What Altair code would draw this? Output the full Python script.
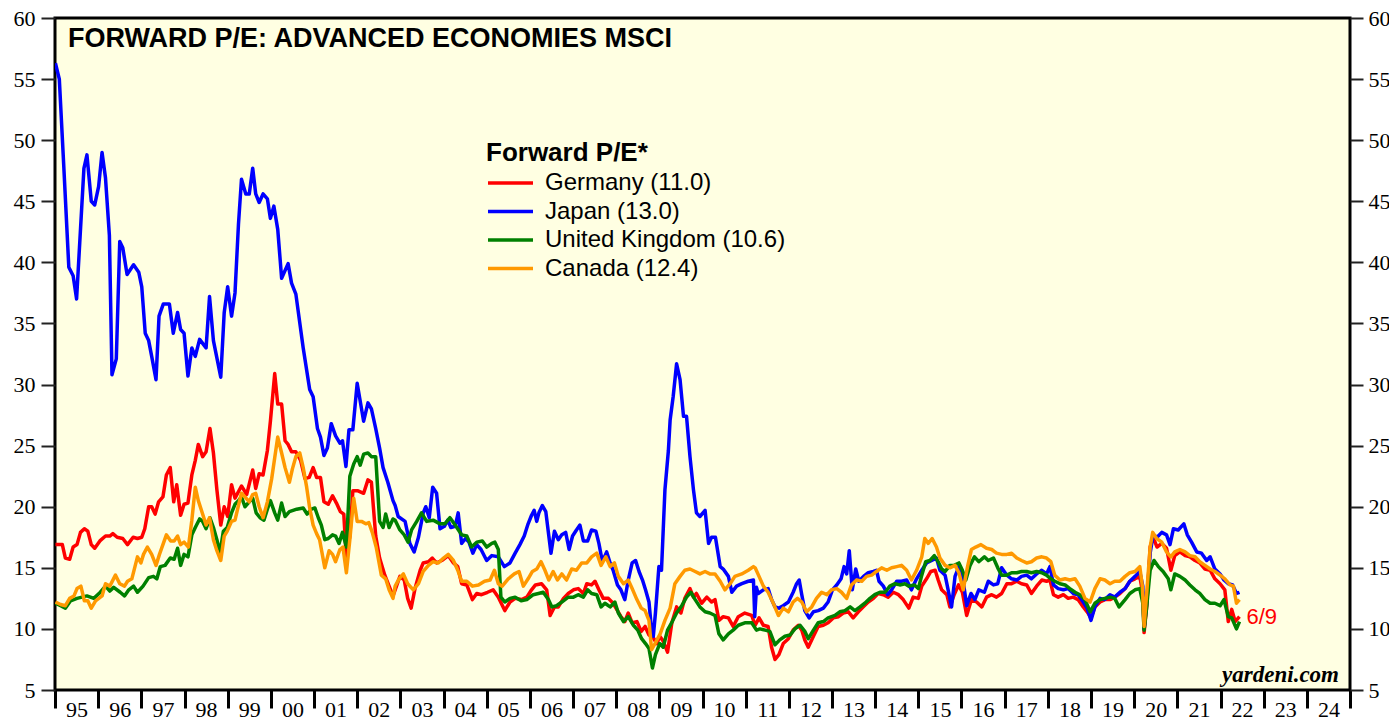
import altair as alt
import pandas as pd

# ---- data (decimal year, forward P/E) ----
GERMANY = [
(1995.01,16.9),(1995.17,16.9),(1995.24,15.8),(1995.34,15.7),(1995.42,16.7),(1995.51,16.9),(1995.59,17.9),
(1995.68,18.2),(1995.76,18.0),(1995.84,16.9),(1995.92,16.6),(1996.04,17.2),(1996.17,17.6),(1996.27,17.6),
(1996.34,17.8),(1996.44,17.5),(1996.57,17.4),(1996.68,16.9),(1996.81,17.5),(1996.91,17.4),(1997.01,17.5),
(1997.08,18.2),(1997.17,20.0),(1997.24,20.0),(1997.32,19.4),(1997.40,20.4),(1997.50,20.8),(1997.58,22.6),
(1997.67,23.2),(1997.75,20.4),(1997.82,21.8),(1997.91,19.3),(1997.99,20.2),(1998.08,20.3),(1998.17,22.6),
(1998.25,23.8),(1998.32,25.1),(1998.42,24.1),(1998.50,24.5),(1998.59,26.4),(1998.67,24.4),(1998.75,21.4),
(1998.84,18.5),(1998.92,20.0),(1999.00,19.2),(1999.09,21.8),(1999.17,20.7),(1999.32,21.7),(1999.44,21.0),
(1999.58,23.0),(1999.65,21.5),(1999.73,22.7),(1999.82,22.6),(1999.92,24.6),(1999.99,27.0),(2000.09,30.9),
(2000.16,28.4),(2000.25,28.4),(2000.33,25.4),(2000.40,25.1),(2000.48,24.5),(2000.58,24.5),(2000.69,23.8),
(2000.79,22.3),(2000.89,22.4),(2000.98,23.2),(2001.06,22.4),(2001.15,22.4),(2001.23,20.4),(2001.33,20.2),
(2001.43,20.9),(2001.52,20.3),(2001.61,19.6),(2001.69,19.4),(2001.75,15.8),(2001.83,17.6),(2001.90,21.3),
(2002.02,21.3),(2002.15,21.1),(2002.25,22.2),(2002.33,22.0),(2002.43,17.6),(2002.52,15.8),(2002.64,14.4),
(2002.74,13.5),(2002.83,12.7),(2002.88,13.2),(2002.99,14.3),(2003.09,14.0),(2003.17,12.5),(2003.25,11.7),
(2003.34,13.3),(2003.46,14.8),(2003.53,15.4),(2003.65,15.5),(2003.74,15.8),(2003.84,15.4),(2003.96,15.6),
(2004.11,16.0),(2004.23,15.4),(2004.33,15.1),(2004.42,13.7),(2004.54,13.6),(2004.67,12.4),(2004.77,12.9),
(2004.88,12.8),(2005.02,13.0),(2005.15,13.2),(2005.27,12.6),(2005.42,11.5),(2005.54,12.2),(2005.66,12.5),
(2005.81,12.4),(2005.93,12.6),(2006.04,13.2),(2006.13,13.6),(2006.27,13.7),(2006.39,13.2),(2006.47,11.1),
(2006.57,11.8),(2006.66,11.8),(2006.78,12.5),(2006.89,12.9),(2007.01,13.2),(2007.12,13.3),(2007.24,12.9),
(2007.32,13.7),(2007.43,13.6),(2007.51,13.9),(2007.60,13.2),(2007.70,12.5),(2007.82,12.5),(2007.93,12.1),
(2008.03,11.5),(2008.11,11.0),(2008.20,10.6),(2008.28,11.3),(2008.37,10.5),(2008.48,10.6),(2008.58,9.8),
(2008.67,10.2),(2008.76,9.5),(2008.84,9.4),(2008.94,8.8),(2009.01,9.4),(2009.09,9.0),(2009.19,8.1),
(2009.29,10.5),(2009.40,11.8),(2009.50,11.3),(2009.59,12.5),(2009.71,13.3),(2009.79,12.6),(2009.86,12.9),
(2009.98,12.1),(2010.10,12.6),(2010.21,12.2),(2010.29,12.4),(2010.38,10.7),(2010.48,11.0),(2010.60,10.9),
(2010.71,10.2),(2010.83,11.0),(2010.98,11.3),(2011.14,11.1),(2011.22,10.3),(2011.31,10.9),(2011.41,10.3),
(2011.52,10.2),(2011.60,8.5),(2011.68,7.5),(2011.77,7.9),(2011.87,8.8),(2011.99,9.2),(2012.10,9.9),
(2012.22,10.3),(2012.30,9.9),(2012.37,9.1),(2012.45,8.5),(2012.57,9.4),(2012.68,10.2),(2012.80,10.3),
(2012.91,10.5),(2013.03,10.9),(2013.15,11.0),(2013.26,11.3),(2013.38,11.4),(2013.49,10.9),(2013.61,11.4),
(2013.72,11.8),(2013.84,12.2),(2013.96,12.5),(2014.07,12.9),(2014.19,12.8),(2014.30,12.6),(2014.42,13.0),
(2014.54,12.8),(2014.65,12.4),(2014.78,11.7),(2014.88,12.6),(2015.00,12.5),(2015.08,13.5),(2015.19,14.1),
(2015.29,14.7),(2015.39,14.8),(2015.46,14.0),(2015.54,13.2),(2015.66,12.8),(2015.73,11.8),(2015.83,12.8),
(2015.93,13.6),(2016.02,13.0),(2016.12,11.1),(2016.23,12.4),(2016.35,12.2),(2016.47,11.8),(2016.58,12.6),
(2016.70,12.8),(2016.81,12.6),(2016.93,12.9),(2017.05,13.7),(2017.16,13.7),(2017.28,13.9),(2017.39,13.7),
(2017.51,13.6),(2017.62,12.9),(2017.74,13.5),(2017.86,14.0),(2017.97,13.9),(2018.05,14.0),(2018.13,12.8),
(2018.24,12.6),(2018.36,12.8),(2018.47,12.5),(2018.59,12.6),(2018.70,12.4),(2018.82,11.8),(2018.91,11.4),
(2019.00,10.9),(2019.09,11.8),(2019.21,12.2),(2019.32,12.4),(2019.44,12.4),(2019.55,12.6),(2019.67,12.9),
(2019.79,13.3),(2019.90,13.9),(2020.02,14.1),(2020.13,14.3),(2020.20,12.9),(2020.23,9.7),(2020.29,11.8),
(2020.37,16.7),(2020.44,17.5),(2020.53,16.7),(2020.64,17.0),(2020.75,16.6),(2020.85,14.8),(2020.94,16.0),
(2021.06,16.3),(2021.18,16.0),(2021.29,15.9),(2021.41,15.6),(2021.52,15.4),(2021.64,14.9),(2021.76,14.8),
(2021.87,14.1),(2021.99,13.7),(2022.10,13.2),(2022.18,10.6),(2022.26,11.6),(2022.34,10.6),(2022.44,11.0),
]

JAPAN = [
(1995.01,56.3),(1995.10,55.0),(1995.20,48.1),(1995.32,39.6),(1995.42,38.9),(1995.50,37.0),(1995.67,47.7),
(1995.74,48.8),(1995.84,45.0),(1995.92,44.7),(1996.01,46.2),(1996.09,49.0),(1996.17,46.9),(1996.26,42.2),
(1996.32,30.8),(1996.42,32.1),(1996.50,41.7),(1996.57,41.2),(1996.67,39.0),(1996.82,39.8),(1996.94,39.2),
(1997.01,38.0),(1997.09,34.2),(1997.17,33.6),(1997.24,32.3),(1997.34,30.4),(1997.41,35.6),(1997.51,36.6),
(1997.65,36.6),(1997.74,34.2),(1997.84,35.9),(1997.91,34.5),(1997.99,34.2),(1998.08,30.7),(1998.17,33.0),
(1998.25,32.3),(1998.35,33.7),(1998.50,33.0),(1998.58,37.2),(1998.67,33.6),(1998.84,30.6),(1998.92,35.9),
(1999.00,38.0),(1999.09,35.6),(1999.17,37.5),(1999.25,43.1),(1999.32,46.8),(1999.42,45.6),(1999.50,45.6),
(1999.58,47.7),(1999.65,45.6),(1999.73,44.9),(1999.82,45.6),(1999.92,45.2),(1999.99,43.6),(2000.07,44.6),
(2000.16,42.7),(2000.25,38.7),(2000.40,39.9),(2000.48,38.3),(2000.58,37.4),(2000.75,33.0),(2000.90,29.6),
(2000.98,29.0),(2001.08,26.4),(2001.15,25.7),(2001.23,24.2),(2001.31,24.8),(2001.40,26.8),(2001.50,25.8),
(2001.60,25.2),(2001.66,25.4),(2001.74,23.3),(2001.81,26.3),(2001.90,26.3),(2002.00,30.1),(2002.15,27.0),
(2002.25,28.5),(2002.33,28.0),(2002.43,26.4),(2002.52,24.8),(2002.60,23.2),(2002.71,22.0),(2002.83,20.5),
(2002.88,20.1),(2002.95,19.2),(2003.11,18.8),(2003.22,17.0),(2003.32,16.3),(2003.42,17.5),(2003.53,19.5),
(2003.59,20.0),(2003.67,19.1),(2003.75,21.6),(2003.84,21.1),(2003.92,18.2),(2004.02,18.4),(2004.10,18.9),
(2004.17,18.3),(2004.27,18.4),(2004.34,19.5),(2004.42,17.0),(2004.51,17.4),(2004.59,17.1),(2004.68,16.2),
(2004.77,16.9),(2004.87,16.5),(2005.00,15.6),(2005.12,16.0),(2005.27,15.9),(2005.41,15.1),(2005.54,15.4),
(2005.66,16.2),(2005.77,16.9),(2005.87,17.6),(2005.96,18.6),(2006.04,19.3),(2006.10,19.7),(2006.16,18.8),
(2006.21,19.5),(2006.29,20.1),(2006.37,19.6),(2006.44,17.6),(2006.49,16.2),(2006.57,18.0),(2006.66,17.3),
(2006.74,17.7),(2006.83,17.9),(2006.91,16.5),(2006.99,17.6),(2007.08,18.1),(2007.16,18.5),(2007.24,17.2),
(2007.34,17.2),(2007.43,18.1),(2007.53,18.0),(2007.60,17.0),(2007.68,15.5),(2007.78,16.3),(2007.86,15.4),
(2007.93,14.8),(2008.03,13.6),(2008.11,13.2),(2008.20,12.4),(2008.28,14.0),(2008.37,15.4),(2008.45,15.6),
(2008.53,14.7),(2008.61,14.0),(2008.68,13.2),(2008.76,12.2),(2008.82,9.9),(2008.86,9.4),(2008.91,11.3),
(2008.99,15.1),(2009.05,14.8),(2009.13,21.4),(2009.21,24.6),(2009.25,27.1),(2009.32,29.0),(2009.40,31.7),
(2009.48,30.4),(2009.56,27.4),(2009.63,27.4),(2009.71,24.1),(2009.79,21.4),(2009.86,19.5),(2009.94,19.2),
(2010.06,19.7),(2010.14,17.0),(2010.21,17.5),(2010.30,17.5),(2010.41,15.1),(2010.48,14.9),(2010.60,14.3),
(2010.68,13.0),(2010.79,13.5),(2010.91,13.7),(2011.06,13.9),(2011.18,14.0),(2011.21,11.0),(2011.25,13.4),
(2011.29,12.9),(2011.41,13.2),(2011.52,13.3),(2011.60,12.4),(2011.68,11.8),(2011.77,11.7),(2011.87,11.9),
(2011.99,12.2),(2012.10,13.0),(2012.18,13.7),(2012.24,14.0),(2012.30,12.8),(2012.37,11.5),(2012.47,10.9),
(2012.57,11.4),(2012.68,11.5),(2012.80,11.7),(2012.91,12.2),(2013.01,13.2),(2013.11,13.6),(2013.21,14.1),
(2013.28,15.1),(2013.34,14.5),(2013.40,16.4),(2013.47,13.2),(2013.55,14.9),(2013.62,13.9),(2013.73,14.3),
(2013.84,14.6),(2013.96,14.7),(2014.03,14.8),(2014.09,13.9),(2014.19,13.5),(2014.29,12.8),(2014.38,13.2),
(2014.50,13.9),(2014.61,13.9),(2014.73,14.0),(2014.84,13.2),(2014.96,14.1),(2015.08,14.8),(2015.19,15.4),
(2015.31,15.6),(2015.42,15.8),(2015.50,14.8),(2015.62,14.4),(2015.69,13.2),(2015.77,11.8),(2015.85,14.3),
(2015.94,15.1),(2016.02,14.4),(2016.12,11.9),(2016.22,12.9),(2016.31,12.4),(2016.40,13.2),(2016.53,13.0),
(2016.62,13.9),(2016.74,13.6),(2016.84,13.7),(2016.93,15.0),(2017.05,14.4),(2017.16,14.1),(2017.28,14.0),
(2017.39,14.3),(2017.51,14.4),(2017.62,14.1),(2017.74,14.5),(2017.86,14.8),(2017.97,14.5),(2018.05,15.1),
(2018.13,13.6),(2018.24,13.3),(2018.36,13.2),(2018.47,13.3),(2018.59,12.9),(2018.70,12.8),(2018.82,12.2),
(2018.91,11.7),(2019.00,10.7),(2019.09,11.8),(2019.21,12.5),(2019.32,12.4),(2019.44,12.8),(2019.55,12.6),
(2019.67,13.0),(2019.79,13.3),(2019.90,13.9),(2020.02,14.3),(2020.13,14.7),(2020.20,13.5),(2020.23,10.0),
(2020.29,12.1),(2020.37,16.2),(2020.44,17.7),(2020.53,17.5),(2020.64,17.9),(2020.75,17.7),(2020.83,16.9),
(2020.91,18.2),(2021.02,18.1),(2021.15,18.6),(2021.23,17.7),(2021.33,17.1),(2021.45,16.3),(2021.56,16.2),
(2021.68,15.6),(2021.76,15.9),(2021.87,14.9),(2021.99,14.5),(2022.08,14.0),(2022.18,13.7),(2022.28,13.6),
(2022.37,12.9),(2022.44,13.0),
]

UNITED_KINGDOM = [
(1995.01,12.1),(1995.13,11.9),(1995.24,11.7),(1995.36,12.3),(1995.51,12.5),(1995.74,12.7),(1995.90,12.5),
(1996.05,13.0),(1996.17,13.5),(1996.27,13.1),(1996.36,13.4),(1996.51,13.0),(1996.61,12.7),(1996.71,13.2),
(1996.82,13.5),(1996.91,13.0),(1997.04,13.5),(1997.17,14.2),(1997.28,14.3),(1997.36,14.1),(1997.44,15.1),
(1997.55,15.2),(1997.67,15.8),(1997.76,15.7),(1997.84,16.6),(1997.91,15.2),(1997.99,16.1),(1998.08,15.9),
(1998.17,17.7),(1998.25,18.3),(1998.35,19.0),(1998.42,18.8),(1998.50,18.2),(1998.59,19.1),(1998.67,18.3),
(1998.75,17.3),(1998.82,16.2),(1998.90,18.0),(1998.99,18.3),(1999.09,19.5),(1999.17,20.2),(1999.25,20.5),
(1999.32,20.8),(1999.40,20.0),(1999.50,20.4),(1999.58,20.7),(1999.66,19.5),(1999.75,19.1),(1999.84,18.9),
(1999.92,19.8),(1999.99,20.5),(2000.09,19.5),(2000.16,18.9),(2000.25,20.3),(2000.33,19.2),(2000.43,19.6),
(2000.60,19.8),(2000.75,19.9),(2000.84,19.4),(2000.94,19.8),(2001.02,19.9),(2001.10,19.1),(2001.17,18.5),
(2001.25,17.3),(2001.33,17.4),(2001.43,17.7),(2001.50,17.6),(2001.58,17.0),(2001.66,17.9),(2001.75,16.7),
(2001.83,22.5),(2001.92,23.5),(2002.00,24.1),(2002.07,23.4),(2002.15,24.3),(2002.25,24.4),(2002.33,24.1),
(2002.43,24.1),(2002.52,18.8),(2002.60,18.3),(2002.66,19.4),(2002.74,18.3),(2002.83,19.0),(2002.88,18.9),
(2002.99,18.1),(2003.09,17.7),(2003.18,17.1),(2003.26,18.1),(2003.38,18.8),(2003.49,19.5),(2003.61,18.8),
(2003.76,18.9),(2003.92,18.6),(2004.03,18.6),(2004.15,19.1),(2004.27,18.5),(2004.42,17.7),(2004.54,17.6),
(2004.65,16.7),(2004.77,17.1),(2004.90,17.2),(2005.00,16.7),(2005.12,17.0),(2005.19,17.1),(2005.27,16.5),
(2005.33,12.6),(2005.42,12.2),(2005.54,12.5),(2005.66,12.6),(2005.80,12.3),(2005.93,12.4),(2006.08,12.8),
(2006.20,12.9),(2006.31,13.0),(2006.43,12.4),(2006.51,11.8),(2006.62,11.9),(2006.74,12.2),(2006.89,12.6),
(2007.01,12.6),(2007.12,12.8),(2007.24,12.6),(2007.34,13.2),(2007.43,12.9),(2007.55,12.8),(2007.65,11.8),
(2007.74,12.1),(2007.86,11.8),(2007.97,12.2),(2008.05,11.3),(2008.17,10.6),(2008.28,11.0),(2008.40,10.3),
(2008.50,9.9),(2008.59,9.2),(2008.68,8.8),(2008.76,8.4),(2008.84,6.8),(2008.91,7.9),(2009.01,8.8),
(2009.09,8.5),(2009.19,9.9),(2009.30,10.6),(2009.40,11.3),(2009.52,11.9),(2009.63,12.6),(2009.73,13.0),
(2009.83,12.4),(2009.94,11.8),(2010.06,11.4),(2010.17,11.3),(2010.29,11.1),(2010.38,9.6),(2010.48,9.1),
(2010.60,9.6),(2010.71,9.9),(2010.83,10.3),(2010.98,10.5),(2011.14,10.5),(2011.25,9.9),(2011.33,10.0),
(2011.45,9.9),(2011.56,9.8),(2011.68,8.7),(2011.79,9.1),(2011.91,9.4),(2012.03,9.5),(2012.14,10.0),
(2012.26,10.3),(2012.37,9.8),(2012.45,9.2),(2012.57,9.9),(2012.68,10.5),(2012.80,10.6),(2012.91,10.9),
(2013.07,11.1),(2013.18,11.4),(2013.30,11.5),(2013.42,11.8),(2013.53,11.5),(2013.65,11.8),(2013.76,12.1),
(2013.88,12.5),(2013.99,12.8),(2014.11,13.0),(2014.23,13.0),(2014.34,13.5),(2014.46,13.7),(2014.57,13.6),
(2014.69,13.7),(2014.78,13.5),(2014.91,13.6),(2015.00,13.3),(2015.08,14.4),(2015.17,15.5),(2015.27,15.6),
(2015.37,16.0),(2015.46,15.5),(2015.54,14.9),(2015.62,14.7),(2015.73,15.2),(2015.83,15.2),(2015.94,15.4),
(2016.02,14.8),(2016.10,14.0),(2016.20,15.2),(2016.30,15.9),(2016.40,15.5),(2016.53,15.9),(2016.62,15.6),
(2016.74,15.8),(2016.84,15.0),(2016.93,14.4),(2017.05,14.4),(2017.16,14.6),(2017.28,14.6),(2017.39,14.7),
(2017.51,14.7),(2017.62,14.6),(2017.74,14.7),(2017.86,14.6),(2017.97,14.4),(2018.07,14.1),(2018.16,13.9),
(2018.28,13.7),(2018.40,13.6),(2018.51,13.3),(2018.63,13.0),(2018.74,12.8),(2018.86,12.4),(2018.98,11.4),
(2019.09,12.1),(2019.21,12.4),(2019.32,12.5),(2019.44,12.6),(2019.55,12.5),(2019.65,11.8),(2019.79,12.4),
(2019.90,12.9),(2020.02,13.2),(2020.13,13.3),(2020.20,12.1),(2020.23,9.9),(2020.29,11.8),(2020.37,14.8),
(2020.46,15.6),(2020.56,15.1),(2020.67,14.7),(2020.79,14.1),(2020.85,13.2),(2020.94,14.5),(2021.06,14.3),
(2021.18,14.0),(2021.29,13.6),(2021.41,13.2),(2021.52,12.9),(2021.64,12.4),(2021.76,12.1),(2021.87,12.1),
(2021.99,11.9),(2022.08,12.4),(2022.18,11.0),(2022.26,10.9),(2022.37,10.0),(2022.44,10.6),
]

CANADA = [
(1995.01,12.2),(1995.13,12.0),(1995.24,11.9),(1995.34,12.5),(1995.44,12.7),(1995.51,13.3),(1995.60,13.5),
(1995.68,12.3),(1995.76,12.3),(1995.84,11.7),(1995.94,12.3),(1996.09,12.7),(1996.17,13.7),(1996.27,13.5),
(1996.40,14.4),(1996.50,13.7),(1996.61,13.5),(1996.68,13.9),(1996.78,14.1),(1996.86,15.2),(1996.91,15.9),
(1996.99,15.4),(1997.05,16.1),(1997.14,16.7),(1997.24,16.1),(1997.34,15.2),(1997.42,16.1),(1997.50,16.9),
(1997.58,17.7),(1997.68,17.2),(1997.76,17.2),(1997.84,17.6),(1997.91,16.9),(1997.99,17.1),(1998.09,16.7),
(1998.17,18.9),(1998.25,21.6),(1998.32,20.5),(1998.42,19.4),(1998.50,18.5),(1998.58,19.1),(1998.67,17.3),
(1998.75,16.4),(1998.84,15.6),(1998.92,17.6),(1998.99,18.0),(1999.09,18.8),(1999.17,18.9),(1999.25,20.1),
(1999.32,21.1),(1999.40,20.8),(1999.50,20.4),(1999.58,21.0),(1999.65,21.1),(1999.73,20.0),(1999.82,19.1),
(1999.92,20.4),(2000.02,22.3),(2000.09,24.0),(2000.16,25.7),(2000.25,24.4),(2000.33,23.2),(2000.43,22.0),
(2000.50,23.1),(2000.58,24.1),(2000.67,24.4),(2000.75,23.2),(2000.83,21.6),(2000.90,19.9),(2000.98,18.5),
(2001.06,17.8),(2001.13,17.3),(2001.25,15.0),(2001.35,16.4),(2001.43,16.1),(2001.50,15.5),(2001.60,16.5),
(2001.67,16.7),(2001.75,14.6),(2001.83,17.3),(2001.92,20.7),(2002.00,18.8),(2002.10,18.8),(2002.20,18.6),
(2002.27,18.7),(2002.35,17.9),(2002.44,16.7),(2002.56,14.4),(2002.66,14.1),(2002.74,13.2),(2002.83,12.5),
(2002.88,13.5),(2002.97,14.1),(2003.07,14.5),(2003.17,13.7),(2003.30,13.2),(2003.42,13.7),(2003.53,14.7),
(2003.65,15.2),(2003.76,15.5),(2003.88,15.4),(2004.00,15.8),(2004.11,16.1),(2004.23,15.6),(2004.33,14.8),
(2004.42,13.9),(2004.54,13.9),(2004.67,13.5),(2004.81,13.6),(2004.95,13.9),(2005.08,14.0),(2005.18,14.8),
(2005.27,13.7),(2005.36,13.5),(2005.50,14.1),(2005.64,14.5),(2005.75,14.7),(2005.85,13.5),(2005.96,14.1),
(2006.06,14.7),(2006.16,14.9),(2006.26,15.5),(2006.35,14.8),(2006.44,14.0),(2006.54,14.7),(2006.64,14.0),
(2006.74,14.5),(2006.85,14.0),(2006.97,14.9),(2007.08,14.8),(2007.20,15.4),(2007.32,15.4),(2007.43,15.9),
(2007.55,16.2),(2007.65,15.2),(2007.76,15.9),(2007.86,15.1),(2007.96,15.4),(2008.05,14.3),(2008.17,13.7),
(2008.28,14.0),(2008.37,13.3),(2008.48,12.4),(2008.58,11.7),(2008.67,11.5),(2008.76,10.7),(2008.82,8.3),
(2008.90,8.8),(2009.02,9.6),(2009.13,10.7),(2009.25,11.7),(2009.36,13.7),(2009.48,14.3),(2009.59,14.8),
(2009.71,14.9),(2009.83,14.7),(2009.94,14.5),(2010.06,14.7),(2010.17,14.5),(2010.29,14.5),(2010.41,13.9),
(2010.52,13.2),(2010.64,13.7),(2010.75,14.3),(2010.91,14.5),(2011.06,14.8),(2011.18,15.1),(2011.22,15.0),
(2011.31,14.3),(2011.41,13.5),(2011.52,13.0),(2011.64,12.1),(2011.76,11.1),(2011.87,11.7),(2011.99,11.4),
(2012.10,12.2),(2012.20,12.5),(2012.30,12.2),(2012.41,11.4),(2012.53,11.8),(2012.64,12.5),(2012.76,13.0),
(2012.88,12.8),(2012.99,13.2),(2013.11,13.3),(2013.22,13.0),(2013.34,12.5),(2013.45,13.6),(2013.57,14.0),
(2013.69,13.9),(2013.80,14.3),(2013.92,14.4),(2014.03,14.7),(2014.15,15.0),(2014.27,14.8),(2014.38,15.0),
(2014.50,15.1),(2014.61,15.2),(2014.73,14.8),(2014.84,14.0),(2014.96,14.8),(2015.08,15.9),(2015.15,17.4),
(2015.23,17.0),(2015.32,17.4),(2015.42,16.7),(2015.50,15.8),(2015.62,15.2),(2015.73,15.0),(2015.85,15.2),
(2015.94,14.6),(2016.04,13.2),(2016.14,15.1),(2016.23,16.5),(2016.33,16.7),(2016.45,16.9),(2016.58,16.6),
(2016.70,16.5),(2016.81,16.2),(2016.93,16.1),(2017.05,16.1),(2017.16,16.2),(2017.28,15.8),(2017.39,15.6),
(2017.51,15.4),(2017.62,15.5),(2017.74,15.8),(2017.86,15.9),(2017.97,15.8),(2018.07,15.5),(2018.16,14.4),
(2018.28,14.0),(2018.40,14.1),(2018.51,14.0),(2018.63,14.1),(2018.74,13.5),(2018.86,12.5),(2018.98,12.2),
(2019.09,13.3),(2019.21,14.1),(2019.32,14.0),(2019.44,13.7),(2019.55,13.9),(2019.67,13.9),(2019.79,14.3),
(2019.90,14.6),(2020.02,14.7),(2020.13,15.1),(2020.19,13.5),(2020.23,10.2),(2020.29,12.9),(2020.37,16.7),
(2020.43,17.9),(2020.52,17.4),(2020.64,17.1),(2020.75,16.3),(2020.85,15.9),(2020.94,16.3),(2021.06,16.5),
(2021.18,16.3),(2021.29,16.0),(2021.41,15.9),(2021.52,15.5),(2021.64,15.2),(2021.76,14.9),(2021.87,14.7),
(2021.99,14.4),(2022.10,14.1),(2022.22,13.6),(2022.30,13.5),(2022.37,12.1),(2022.44,12.4),
]

SERIES_NAMES = ["Germany (11.0)", "Japan (13.0)", "United Kingdom (10.6)", "Canada (12.4)"]
SERIES_COLORS = ["#FF0000", "#0000FF", "#008000", "#FF9900"]
SERIES_DATA = [GERMANY, JAPAN, UNITED_KINGDOM, CANADA]
YEAR_TICKS = list(range(1995, 2026))
Y_TICKS = list(range(5, 61, 5))
TITLE = "FORWARD P/E: ADVANCED ECONOMIES MSCI"
LEGEND_TITLE = "Forward P/E*"
END_LABEL = "6/9"
END_DATE = 2022.44
END_VALUE = 11.0
SOURCE = "yardeni.com"

rows = []
for name, pts in zip(SERIES_NAMES, SERIES_DATA):
    for t, v in pts:
        rows.append({"t": t, "v": v, "series": name})
df = pd.DataFrame(rows)
end_df = pd.DataFrame([{"t": END_DATE, "v": END_VALUE, "label": END_LABEL}])

SERIF = "Liberation Serif"
SANS = "Liberation Sans"

xscale = alt.Scale(domain=[1995, 2025], nice=False, zero=False)
yscale = alt.Scale(domain=[5, 60], nice=False, zero=False)
xaxis = alt.Axis(values=YEAR_TICKS, title=None, grid=False, domain=False,
                 tickSize=18, tickWidth=3, tickColor="black",
                 labelOffset=21.6, labelPadding=-9, labelFont=SERIF, labelFontSize=22,
                 labelColor="black", labelOverlap=False, labelFlush=False, labelBound=False,
                 labelExpr="datum.value == 2025 ? '' : substring(toString(datum.value), 2, 4)")
yaxis_left = alt.Axis(values=Y_TICKS, title=None, grid=False, domain=False, orient="left",
                      tickSize=14, tickWidth=2, tickColor="#222222", labelPadding=6,
                      labelFont=SERIF, labelFontSize=22, labelColor="black",
                      labelOverlap=False, labelFlush=False)
yaxis_right = alt.Axis(values=Y_TICKS, title=None, grid=False, domain=False, orient="right",
                       tickSize=13, tickWidth=2, tickColor="#222222", labelPadding=5,
                       labelFont=SERIF, labelFontSize=22, labelColor="black",
                       labelOverlap=False, labelFlush=False)

color = alt.Color("series:N",
                  scale=alt.Scale(domain=SERIES_NAMES, range=SERIES_COLORS),
                  legend=alt.Legend(title=LEGEND_TITLE, orient="none", legendX=431, legendY=122,
                                    symbolType="stroke", symbolSize=2025, symbolStrokeWidth=3.5,
                                    clipHeight=26,
                                    labelFont=SANS, labelFontSize=24, labelColor="black",
                                    labelOffset=10, rowPadding=2.5, padding=0,
                                    titleFont=SANS, titleFontSize=26, titleFontWeight="bold",
                                    titleColor="black", titlePadding=4, titleAnchor="start",
                                    labelLimit=400))

layers = []
for i, name in enumerate(SERIES_NAMES):
    if i == 0:
        ya = yaxis_left
    elif i == len(SERIES_NAMES) - 1:
        ya = yaxis_right
    else:
        ya = None
    layers.append(
        alt.Chart(df).transform_filter(alt.datum.series == name)
        .mark_line(strokeWidth=3.5, clip=True, strokeJoin="round")
        .encode(x=alt.X("t:Q", scale=xscale, axis=xaxis),
                y=alt.Y("v:Q", scale=yscale, axis=ya),
                color=color)
    )

end_text = alt.Chart(end_df).mark_text(align="left", baseline="middle", dx=7,
                                       font=SANS, fontSize=22, color="#FF0000").encode(
    x=alt.X("t:Q", scale=xscale, axis=xaxis),
    y=alt.Y("v:Q", scale=yscale, axis=None),
    text="label:N")

title_text = alt.Chart(pd.DataFrame([{"s": TITLE}])).mark_text(
    align="left", baseline="alphabetic", font=SANS, fontSize=27, fontWeight="bold", color="black"
).encode(x=alt.value(13), y=alt.value(29), text="s:N")

source_text = alt.Chart(pd.DataFrame([{"s": SOURCE}])).mark_text(
    align="right", baseline="alphabetic", font=SERIF, fontSize=23, fontWeight="bold",
    fontStyle="italic", color="black"
).encode(x=alt.value(1284), y=alt.value(664), text="s:N")

chart = alt.layer(*layers, end_text, title_text, source_text).resolve_axis(
    y="independent"
).properties(
    width=1295, height=672,
    autosize=alt.AutoSizeParams(type="none"),
    padding={"left": 47, "top": 10, "right": 39, "bottom": 29},
    background="white",
).configure_view(
    fill="#FFFFE2", stroke="black", strokeWidth=3
)

chart.save("out.html", embed_options={"renderer": "svg", "actions": False})
